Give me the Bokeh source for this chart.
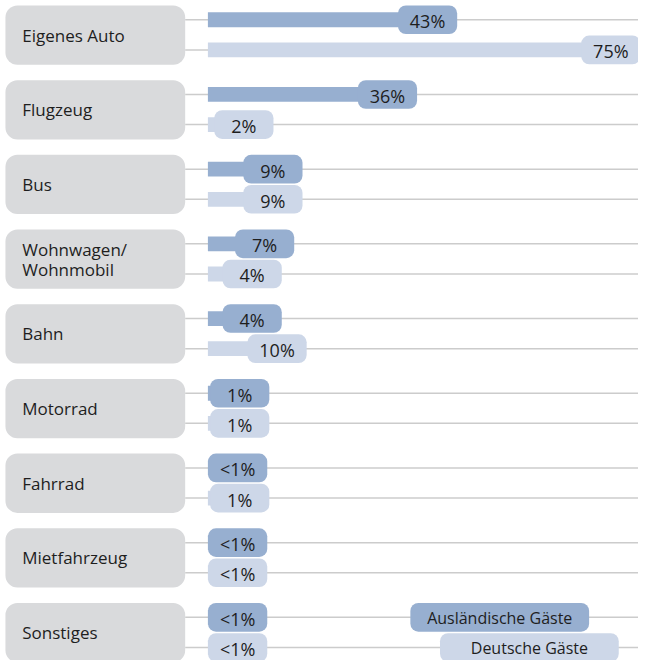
from bokeh.plotting import figure
from bokeh.models import Range1d
from bokeh.core.properties import value
from bokeh.embed import file_html
from bokeh.resources import INLINE

# ---- data ----
categories = ["Eigenes Auto", "Flugzeug", "Bus", "Wohnwagen/\nWohnmobil", "Bahn",
              "Motorrad", "Fahrrad", "Mietfahrzeug", "Sonstiges"]
foreign = [43, 36, 9, 7, 4, 1, 0.5, 0.5, 0.5]
german = [75, 2, 9, 4, 10, 1, 1, 0.5, 0.5]
foreign_labels = ["43%", "36%", "9%", "7%", "4%", "1%", "<1%", "<1%", "<1%"]
german_labels = ["75%", "2%", "9%", "4%", "10%", "1%", "1%", "<1%", "<1%"]
series_names = ["Ausländische Gäste", "Deutsche Gäste"]

# ---- styling / layout ----
C_FOREIGN = "#97afd0"
C_GERMAN = "#cdd7e8"
C_CAT = "#d9dadc"
C_GRID = "#cccccc"
C_TEXT = "#1e1e1e"
FONT = value("Open Sans")

W, H = 638, 660
REF_W, REF_H = 646, 668
SX = W / REF_W
SCALE = 5.8          # reference px per percent
BAR0 = 210           # reference x of bar start
X0 = -BAR0 / SCALE
X1 = X0 + REF_W / SCALE


def px_x(ref_x):
    return X0 + ref_x / SCALE


GROUP = 75.6
row_top = [5 + GROUP * i for i in range(len(categories))]
y_f = [t + 14.5 for t in row_top]
y_g = [t + 45.0 for t in row_top]
y_c = [t + 30.0 for t in row_top]


def label_center(v):
    return max(v - 27 / SCALE, (28 + 4.2 * v) / SCALE)


p = figure(width=W, height=H, output_backend="svg", toolbar_location=None,
           x_range=Range1d(X0, X1), y_range=Range1d(REF_H, 0),
           x_axis_location=None, y_axis_location=None, min_border=0,
           outline_line_color=None, background_fill_color="white",
           border_fill_color="white")
p.xgrid.visible = False
p.ygrid.visible = False

# grid lines
n = len(categories)
p.segment(x0=[px_x(187)] * (2 * n), x1=[X1] * (2 * n),
          y0=y_f + y_g, y1=y_f + y_g, line_color=C_GRID, line_width=1.5)

# category boxes
p.rect(x=[(px_x(5) + px_x(187)) / 2] * n, y=y_c,
       width=px_x(187) - px_x(5), height=60, fill_color=C_CAT, line_color=None,
       border_radius=12)
p.text(x=[px_x(22)] * n, y=y_c, text=categories,
       text_font=FONT, text_font_size=value("17px"), text_color=C_TEXT,
       text_baseline="middle", text_align="left", text_line_height=0.87)

# bars
p.hbar(y=y_f, left=0, right=foreign, height=15, fill_color=C_FOREIGN, line_color=None)
p.hbar(y=y_g, left=0, right=german, height=15, fill_color=C_GERMAN, line_color=None)

# label boxes
fx = [label_center(v) for v in foreign]
gx = [label_center(v) for v in german]
p.rect(x=fx, y=y_f, width=60 * SX, width_units="screen", height=29,
       fill_color=C_FOREIGN, line_color=None, border_radius=8)
p.rect(x=gx, y=y_g, width=60 * SX, width_units="screen", height=29,
       fill_color=C_GERMAN, line_color=None, border_radius=8)
p.text(x=fx, y=[y + 1.5 for y in y_f], text=foreign_labels, text_font=FONT,
       text_font_size=value("18px"), text_color=C_TEXT,
       text_align="center", text_baseline="middle")
p.text(x=gx, y=[y + 1.5 for y in y_g], text=german_labels, text_font=FONT,
       text_font_size=value("18px"), text_color=C_TEXT,
       text_align="center", text_baseline="middle")

# legend
lx = [px_x(505.5), px_x(535.5)]
ly = [y_f[-1], y_g[-1]]
p.rect(x=lx, y=ly, width=181 * SX, width_units="screen", height=29,
       fill_color=[C_FOREIGN, C_GERMAN], line_color=None, border_radius=8)
p.text(x=lx, y=[y + 1 for y in ly], text=series_names, text_font=FONT,
       text_font_size=value("16px"), text_color=C_TEXT,
       text_align="center", text_baseline="middle")

open("out.html", "w").write(file_html(p, INLINE))
